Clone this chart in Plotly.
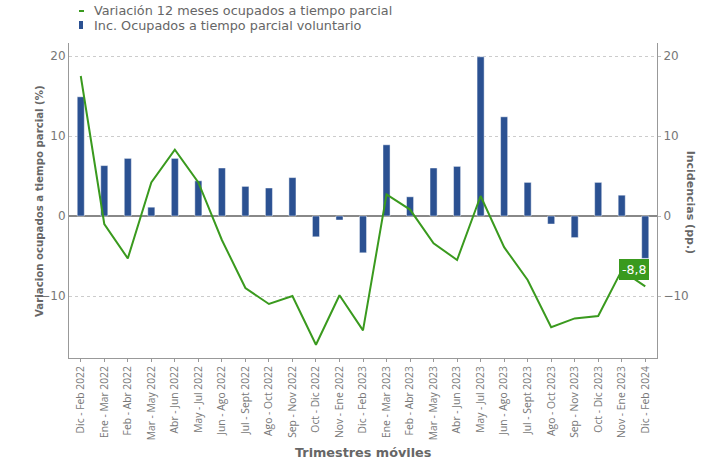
import plotly.graph_objects as go

trimestres = [
    "Dic - Feb 2022", "Ene - Mar 2022", "Feb - Abr 2022", "Mar - May 2022",
    "Abr - Jun 2022", "May - Jul 2022", "Jun - Ago 2022", "Jul - Sept 2022",
    "Ago - Oct 2022", "Sep - Nov 2022", "Oct - Dic 2022", "Nov - Ene 2022",
    "Dic - Feb 2023", "Ene - Mar 2023", "Feb - Abr 2023", "Mar - May 2023",
    "Abr - Jun 2023", "May - Jul 2023", "Jun - Ago 2023", "Jul - Sept 2023",
    "Ago - Oct 2023", "Sep - Nov 2023", "Oct - Dic 2023", "Nov - Ene 2023",
    "Dic - Feb 2024",
]

variacion = [
    17.5, -1.0, -5.3, 4.2, 8.3, 4.2, -3.0, -9.0, -11.0, -10.0, -16.1, -9.9,
    -14.3, 2.7, 0.8, -3.4, -5.5, 2.5, -3.9, -8.0, -13.9, -12.8, -12.5, -6.8,
    -8.8,
]

incidencia = [
    14.9, 6.3, 7.2, 1.1, 7.2, 4.4, 6.0, 3.7, 3.5, 4.8, -2.6, -0.5,
    -4.6, 8.9, 2.4, 6.0, 6.2, 19.9, 12.4, 4.2, -1.0, -2.7, 4.2, 2.6,
    -5.3,
]

green = "#3a9a1e"
blue = "#2b5192"
grey = "#777777"
font_main = "DejaVu Sans, Verdana, sans-serif"
y_range = [-17.75, 21.625]

fig = go.Figure()

fig.add_trace(go.Bar(
    x=trimestres,
    y=incidencia,
    name="Inc. Ocupados a tiempo parcial voluntario",
    width=0.3,
    marker=dict(color=blue, line=dict(color="rgba(255,255,255,0.45)", width=1)),
    yaxis="y",
))

fig.add_trace(go.Scatter(
    x=trimestres,
    y=variacion,
    name="Variación 12 meses ocupados a tiempo parcial",
    mode="lines",
    line=dict(color=green, width=2),
    yaxis="y2",
))

fig.add_annotation(
    x=trimestres[-1], y=variacion[-1], xref="x", yref="y2",
    text="-8,8", showarrow=False,
    xshift=-11, yshift=17,
    bgcolor=green, bordercolor=green, borderpad=2,
    font=dict(color="white", size=12.5, family=font_main),
)

# legend drawn by hand (small symbols like the original)
fig.add_shape(type="line", xref="paper", yref="paper",
              x0=0.017, x1=0.0255, y0=1.1016, y1=1.1016,
              line=dict(color=green, width=2))
fig.add_shape(type="rect", xref="paper", yref="paper",
              x0=0.017, x1=0.0238, y0=1.0444, y1=1.0698,
              line=dict(width=0), fillcolor=blue)
fig.add_annotation(x=0.039, y=1.1016, xref="paper", yref="paper",
                   text="Variación 12 meses ocupados a tiempo parcial",
                   showarrow=False, xanchor="left", yanchor="middle",
                   font=dict(size=12.8, color="#666"))
fig.add_annotation(x=0.039, y=1.0571, xref="paper", yref="paper",
                   text="Inc. Ocupados a tiempo parcial voluntario",
                   showarrow=False, xanchor="left", yanchor="middle",
                   font=dict(size=12.8, color="#666"))

# axis titles
fig.add_annotation(x=-0.063, y=0.50, xref="paper", yref="paper",
                   text="<b>Variacion ocupados a tiempo parcial (%)</b>",
                   showarrow=False, textangle=-90,
                   font=dict(size=10.2, color="#666"))
fig.add_annotation(x=1.073, y=0.495, xref="paper", yref="paper",
                   text="<b>Incidencias (pp.)</b>",
                   showarrow=False, textangle=90,
                   font=dict(size=11, color="#666"))
fig.add_annotation(x=0.5, y=-0.30, xref="paper", yref="paper",
                   text="<b>Trimestres móviles</b>",
                   showarrow=False, yanchor="middle",
                   font=dict(size=12.8, color="#666"))

fig.update_layout(
    width=718, height=462,
    margin=dict(l=69, r=61, t=43, b=104),
    paper_bgcolor="white", plot_bgcolor="white",
    font=dict(family=font_main, size=12, color=grey),
    showlegend=False,
    xaxis=dict(
        tickangle=-90, tickfont=dict(size=10.3, family="Open Sans", color=grey),
        ticks="outside", ticklen=3, tickcolor="#999",
        showline=True, linecolor="#999", linewidth=1,
        showgrid=False, range=[-0.5, 24.5],
    ),
    yaxis=dict(
        range=y_range, tickvals=[-10, 0, 10, 20],
        showgrid=True, gridcolor="#cccccc", griddash="dot", gridwidth=1,
        zeroline=True, zerolinecolor="#888", zerolinewidth=2,
        showline=True, linecolor="#999", linewidth=1,
        ticks="", tickfont=dict(size=12, color=grey),
    ),
    yaxis2=dict(
        range=y_range, tickvals=[-10, 0, 10, 20],
        overlaying="y", side="right",
        showgrid=False, zeroline=False,
        showline=True, linecolor="#999", linewidth=1,
        ticks="outside", ticklen=3, tickcolor="#bbb",
        tickfont=dict(size=12, color=grey),
    ),
)

# drop the default 8px page margin so the figure fills the window exactly
fig.write_html(
    "out.html",
    config={"displayModeBar": False},
    post_script="document.body.style.margin = '0';",
)
